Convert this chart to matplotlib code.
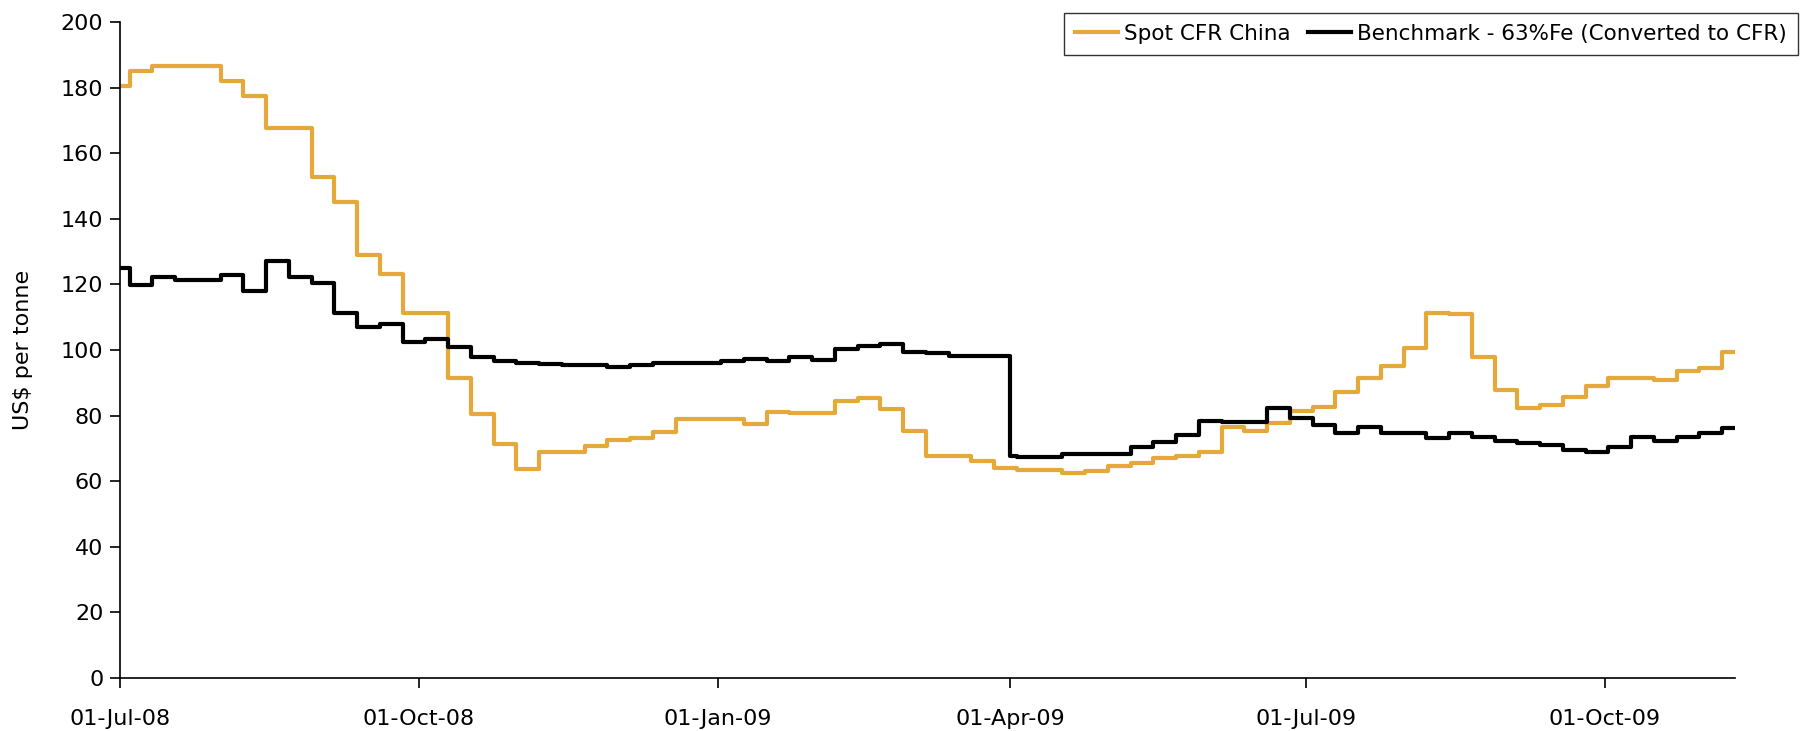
import numpy as np
import pandas as pd
import matplotlib
matplotlib.use("Agg")
import matplotlib.pyplot as plt
import matplotlib.dates as mdates

# weekly (Friday) observations, plus the series start, the 1-Apr-09 benchmark reset and the series end
weekly = pd.date_range("2008-07-04", "2009-11-06", freq="W-FRI")
dates = ([pd.Timestamp("2008-07-01")] + list(weekly[:39]) + [pd.Timestamp("2009-04-01")]
         + list(weekly[39:]) + [pd.Timestamp("2009-11-10")])

spot = [180.5,
        185.1, 186.6, 186.6, 186.6, 182.0, 177.3, 167.8, 167.8, 152.8, 145.1,
        129.0, 123.2, 111.2, 111.2, 91.4, 80.5, 71.2, 63.6, 69.0, 69.0,
        70.7, 72.6, 73.1, 74.9, 79.0, 79.0, 79.0, 77.4, 81.2, 80.7,
        80.7, 84.3, 85.5, 82.1, 75.4, 67.7, 67.7, 66.3, 63.9,
        63.9,
        63.3, 63.3, 62.6, 63.0, 64.6, 65.6, 67.1, 67.6, 69.0, 76.6, 75.3,
        77.6, 81.4, 82.7, 87.1, 91.4, 95.2, 100.7, 111.4, 110.9, 98.0,
        87.8, 82.2, 83.1, 85.8, 89.0, 91.4, 91.4, 90.9, 93.6, 94.6, 99.4,
        99.4]

benchmark = [124.9,
             119.8, 122.4, 121.3, 121.3, 122.8, 118.1, 127.2, 122.4, 120.5, 111.2,
             106.9, 107.9, 102.5, 103.3, 100.8, 97.8, 96.6, 96.1, 95.7, 95.3,
             95.3, 94.9, 95.3, 96.1, 96.1, 96.1, 96.6, 97.4, 96.7, 97.8,
             97.0, 100.4, 101.3, 101.7, 99.5, 99.0, 98.3, 98.3, 98.3,
             67.7,
             67.4, 67.4, 68.4, 68.4, 68.4, 70.5, 72.0, 74.1, 78.5, 77.9, 77.9,
             82.2, 79.4, 77.1, 74.8, 76.6, 74.8, 74.8, 73.1, 74.8, 73.4,
             72.4, 71.6, 71.0, 69.5, 69.0, 70.5, 73.6, 72.2, 73.6, 74.8, 76.3,
             76.3]

labels = ["Spot CFR China", "Benchmark - 63%Fe (Converted to CFR)"]
colors = ["#E5A93B", "#000000"]

plt.rcParams["font.family"] = ["DejaVu Sans"]

fig = plt.figure(figsize=(18.15, 7.31), dpi=100)
ax = fig.add_axes([120 / 1815, 1 - 678 / 731, (1735 - 120) / 1815, (678 - 22) / 731])

for vals, label, color in zip([spot, benchmark], labels, colors):
    ax.step(dates, vals, where="post", color=color, lw=3.0, label=label)

ax.set_xlim(pd.Timestamp("2008-07-01"), pd.Timestamp("2009-11-10"))
ax.set_ylim(0, 200)
ax.set_yticks(np.arange(0, 201, 20))
ax.xaxis.set_major_locator(mdates.MonthLocator(bymonth=[1, 4, 7, 10]))
ax.xaxis.set_major_formatter(mdates.DateFormatter("%d-%b-%y"))

for side in ["top", "right"]:
    ax.spines[side].set_visible(False)
for side in ["left", "bottom"]:
    ax.spines[side].set_linewidth(1.2)
ax.tick_params(axis="both", direction="out", length=7, width=1.2, labelsize=16)
ax.tick_params(axis="x", pad=15)
ax.tick_params(axis="y", pad=5)
ax.set_ylabel("US$ per tonne", fontsize=16, labelpad=20)

leg = ax.legend(loc="upper right", bbox_to_anchor=(1798 / 1815, 1 - 13 / 731),
                bbox_transform=fig.transFigure, ncol=2, fontsize=15.5,
                frameon=True, fancybox=False, handlelength=2.0, handletextpad=0.3,
                columnspacing=0.8, borderpad=0.5, borderaxespad=0)
leg.get_frame().set_edgecolor("black")
leg.get_frame().set_linewidth(1.0)

fig.savefig("out.png", dpi=100, facecolor="white")
